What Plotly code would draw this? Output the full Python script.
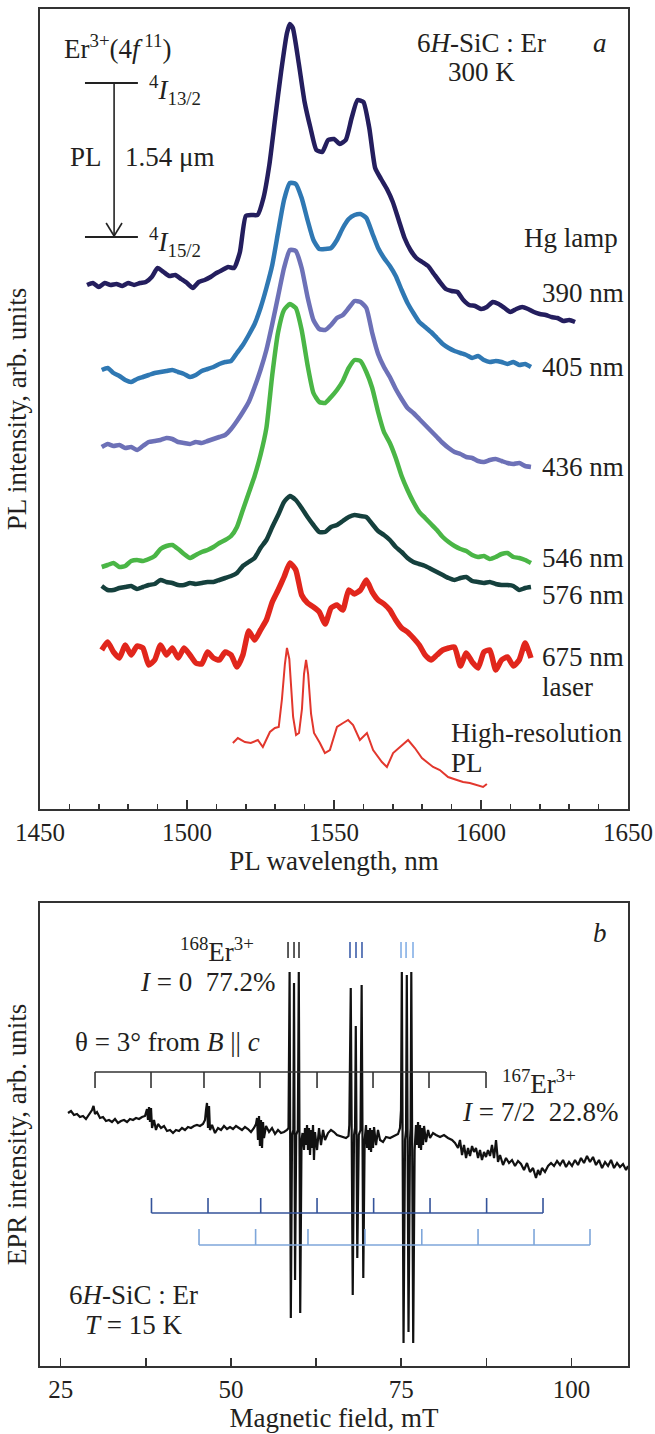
import plotly.graph_objects as go

# ---------------- Panel a: PL spectra (offset, arb. units) ----------------
wl_390 = [1466, 1468, 1470, 1472, 1474, 1476, 1478, 1480, 1482, 1484,
          1486, 1488, 1490, 1492, 1494, 1496, 1498, 1500, 1502, 1504,
          1506, 1508, 1510, 1512, 1514, 1516, 1518, 1520, 1522, 1524,
          1526, 1528, 1530, 1532, 1534, 1535, 1536, 1538, 1540, 1542,
          1544, 1546, 1548, 1550, 1552, 1554, 1556, 1558, 1560, 1562,
          1564, 1566, 1568, 1570, 1572, 1574, 1576, 1578, 1580, 1582,
          1584, 1586, 1588, 1590, 1592, 1594, 1596, 1598, 1600, 1602,
          1604, 1606, 1608, 1610, 1612, 1614, 1616, 1618, 1620, 1622,
          1624, 1626, 1628, 1630, 1632]
pl_390 = [524, 526, 522, 526, 524, 525, 523, 526, 524, 526,
          527, 532, 541, 537, 533, 534, 530, 526, 521, 527,
          529, 532, 536, 539, 542, 541, 557, 593, 594, 594,
          611, 644, 691, 737, 776, 785, 781, 746, 707, 681,
          659, 657, 669, 670, 665, 669, 691, 709, 707, 681,
          641, 630, 620, 607, 589, 571, 559, 551, 547, 543,
          535, 527, 520, 518, 517, 509, 504, 503, 500, 502,
          507, 505, 501, 497, 500, 502, 500, 497, 495, 494,
          492, 491, 488, 489, 487]

wl_hg = [1471, 1473, 1475, 1477, 1479, 1481, 1483, 1485, 1487, 1489,
         1491, 1493, 1495, 1497, 1499, 1501, 1503, 1505, 1507, 1509,
         1511, 1513, 1515, 1517, 1519, 1521, 1523, 1525, 1527, 1529,
         1531, 1533, 1535, 1537, 1539, 1541, 1543, 1545, 1547, 1549,
         1551, 1553, 1555, 1557, 1559, 1561, 1563, 1565, 1567, 1569,
         1571, 1573, 1575, 1577, 1579, 1581, 1583, 1585, 1587, 1589,
         1591, 1593, 1595, 1597, 1599, 1601, 1603, 1605, 1607, 1609,
         1611, 1613, 1615, 1617]
pl_405 = [439, 441, 436, 433, 429, 427, 430, 432, 434, 436,
          437, 438, 439, 437, 435, 432, 434, 438, 440, 442,
          445, 447, 448, 456, 464, 474, 485, 501, 521, 544,
          577, 609, 626, 625, 611, 589, 569, 560, 560, 561,
          569, 581, 590, 594, 595, 591, 576, 561, 551, 543,
          533, 519, 506, 496, 487, 482, 477, 471, 465, 461,
          458, 456, 454, 451, 453, 449, 447, 448, 447, 445,
          447, 444, 445, 442]
pl_436 = [362, 365, 363, 364, 361, 362, 359, 363, 367, 368,
          369, 371, 370, 367, 366, 365, 367, 366, 368, 370,
          372, 374, 380, 388, 397, 407, 422, 439, 459, 485,
          513, 541, 559, 558, 541, 512, 489, 480, 479, 484,
          491, 494, 501, 508, 507, 501, 476, 455, 442, 432,
          420, 410, 401, 396, 390, 384, 378, 372, 366, 361,
          357, 355, 352, 351, 348, 347, 349, 350, 348, 346,
          345, 346, 343, 342]
pl_546 = [242, 244, 246, 242, 243, 248, 249, 248, 250, 253,
          260, 263, 264, 260, 255, 251, 254, 257, 259, 262,
          266, 269, 273, 282, 299, 316, 333, 354, 381, 434,
          477, 499, 505, 501, 479, 444, 416, 407, 406, 412,
          419, 428, 441, 449, 448, 437, 421, 397, 377, 366,
          351, 333, 319, 307, 297, 291, 285, 279, 272, 267,
          263, 260, 258, 254, 252, 253, 250, 252, 255, 256,
          252, 251, 249, 246]
pl_576 = [223, 219, 219, 221, 222, 223, 220, 222, 224, 225,
          229, 227, 226, 224, 224, 226, 225, 226, 227, 227,
          229, 231, 233, 236, 243, 247, 251, 261, 269, 282,
          294, 307, 313, 309, 301, 292, 284, 277, 277, 282,
          284, 288, 292, 294, 293, 292, 285, 278, 274, 269,
          262, 257, 251, 247, 245, 243, 240, 237, 234, 231,
          229, 231, 232, 228, 227, 226, 227, 225, 224, 224,
          223, 219, 221, 222]
pl_675 = [159, 167, 157, 151, 164, 154, 163, 161, 144, 149,
          164, 154, 161, 151, 161, 154, 146, 145, 157, 151,
          149, 157, 154, 142, 154, 178, 169, 179, 189, 207,
          219, 232, 246, 239, 214, 206, 202, 197, 185, 201,
          204, 199, 219, 215, 219, 229, 217, 209, 205, 199,
          189, 181, 177, 171, 164, 154, 149, 154, 159, 161,
          162, 143, 156, 147, 141, 157, 159, 139, 149, 152,
          143, 149, 166, 151]

wl_hr = [1515.6, 1517.3, 1519.7, 1521.7, 1524.1, 1525.8, 1528.2, 1529.9, 1531.2, 1532.3,
         1533.3, 1534.0, 1534.8, 1535.4, 1536.1, 1537.1, 1538.1, 1539.1, 1539.8, 1540.5,
         1541.2, 1542.2, 1543.2, 1545.2, 1546.9, 1548.6, 1551.0, 1553.1, 1554.8, 1556.5,
         1558.8, 1561.2, 1563.3, 1566.3, 1568.0, 1570.1, 1572.4, 1575.2, 1577.5, 1579.9,
         1582.0, 1583.7, 1586.0, 1588.8, 1591.8, 1593.9, 1596.2, 1598.6, 1600.7, 1602.0]
pl_hr = [66, 71, 67, 66, 69, 62, 77, 81, 82, 110,
         145, 161, 150, 120, 92, 74, 76, 100, 135, 149,
         135, 95, 76, 66, 56, 59, 82, 86, 89, 84,
         69, 76, 59, 47, 42, 56, 62, 69, 61, 51,
         46, 42, 39, 32, 29, 27, 26, 24, 22, 25]

pl_labels = ["390 nm", "405 nm", "436 nm", "546 nm", "576 nm", "675 nm"]
pl_label_y = [516, 442, 342, 251, 214, 152]

# ---------------- Panel b: EPR spectrum ----------------
field_mT = [
    26.07, 26.51, 26.95, 27.39, 27.83, 28.27, 28.71, 29.16, 29.60, 29.82,
    30.04, 30.33, 30.77, 31.21, 31.65, 32.09, 32.53, 32.97, 33.41, 33.85,
    34.30, 34.74, 35.18, 35.62, 36.06, 36.50, 36.94, 37.38, 37.67, 37.82,
    37.97, 38.11, 38.26, 38.41, 38.70, 38.99, 39.29, 39.73, 40.17, 40.61,
    41.05, 41.49, 41.93, 42.37, 42.81, 43.25, 43.69, 44.13, 44.57, 45.01,
    45.45, 45.89, 46.19, 46.34, 46.48, 46.63, 46.78, 46.92, 47.22, 47.66,
    48.10, 48.54, 48.98, 49.42, 49.86, 50.30, 50.74, 51.18, 51.62, 52.06,
    52.50, 52.94, 53.38, 53.68, 53.83, 53.97, 54.12, 54.26, 54.41, 54.56,
    54.71, 54.85, 55.15, 55.59, 56.03, 56.47, 56.91, 57.35, 57.79, 58.23,
    58.45,
    58.61, 58.79, 58.97, 59.16, 59.26, 59.41, 59.58, 59.82, 59.96, 60.17, 60.36, 60.51,
    60.73, 60.87, 61.02, 61.17, 61.31, 61.46, 61.61, 61.75, 61.90, 62.05,
    62.19, 62.34, 62.64, 62.93, 63.22, 63.52, 63.81, 64.25, 64.69, 65.13,
    65.57, 66.01, 66.45, 66.89, 67.26,
    67.38, 67.59, 67.88, 68.07, 68.22, 68.33, 68.55, 68.77, 69.02, 69.19, 69.43, 69.63,
    69.83, 69.98, 70.12, 70.27, 70.42, 70.57, 70.71, 70.86, 71.01, 71.30,
    71.59, 71.89, 72.33, 72.77, 73.36, 73.94, 74.53, 74.82,
    74.97, 75.09, 75.34, 75.56, 75.71, 75.82, 76.07, 76.29, 76.38, 76.48, 76.76, 76.97,
    77.17, 77.32, 77.47, 77.61, 77.76, 77.91, 78.05, 78.20, 78.35, 78.64,
    78.94, 79.23, 79.67, 80.11, 80.70, 81.28, 81.87, 82.46, 82.90, 83.34,
    83.63, 83.93, 84.22, 84.52, 84.81, 85.10, 85.40, 85.69, 85.98, 86.28,
    86.57, 86.86, 87.16, 87.45, 87.74, 88.04, 88.33, 88.63, 88.92, 89.21,
    89.51, 89.95, 90.39, 90.83, 91.27, 91.71, 92.15, 92.59, 93.03, 93.47,
    93.91, 94.35, 94.79, 95.09, 95.38, 95.67, 96.11, 96.56, 97.00, 97.44,
    97.88, 98.32, 98.76, 99.20, 99.64, 100.08, 100.52, 100.96, 101.40, 101.84,
    102.28, 102.72, 103.16, 103.60, 104.04, 104.49, 104.93, 105.37, 105.81, 106.25,
    106.69, 107.13, 107.57, 108.01, 108.30]
epr_signal = [
    253, 255, 251, 252, 249, 250, 247, 251, 256, 260,
    252, 254, 248, 249, 245, 246, 244, 247, 243, 245,
    246, 244, 247, 246, 248, 247, 249, 250, 257, 246,
    259, 244, 258, 238, 246, 236, 242, 238, 240, 235,
    236, 233, 236, 235, 238, 236, 239, 238, 240, 241,
    240, 242, 246, 256, 263, 238, 260, 236, 241, 233,
    238, 236, 240, 237, 239, 237, 240, 238, 236, 239,
    237, 234, 238, 242, 248, 226, 250, 220, 246, 218,
    244, 228, 240, 234, 238, 232, 236, 233, 234, 236,
    238,
    394, 48, 231, 236, 383, 86, 231, 236, 394, 53, 226, 233,
    216, 238, 221, 241, 216, 238, 211, 236, 218, 241,
    206, 234, 216, 238, 221, 236, 226, 233, 236, 234,
    231, 230, 229, 228, 230,
    241, 378, 71, 231, 238, 340, 108, 231, 236, 381, 88, 226,
    241, 218, 236, 216, 238, 214, 236, 218, 239, 221,
    236, 226, 224, 229, 228, 230, 232, 238,
    256, 394, 23, 226, 236, 391, 34, 226, 238, 394, 23, 216,
    241, 221, 244, 218, 241, 216, 238, 221, 240, 224,
    236, 228, 233, 231, 229, 231, 228, 226, 223, 218,
    226, 211, 221, 208, 218, 210, 220, 214, 218, 208,
    216, 206, 214, 209, 216, 210, 221, 208, 226, 204,
    211, 201, 208, 203, 206, 200, 205, 202, 196, 203,
    194, 198, 188, 196, 191, 198, 194, 200, 203, 200,
    205, 201, 206, 199, 204, 200, 206, 201, 208, 203,
    210, 204, 209, 201, 206, 198, 204, 200, 206, 198,
    203, 199, 202, 196, 200]

# hyperfine stick diagrams (mT)
hf_167_black = [30.04, 38.26, 46.04, 54.26, 62.64, 70.86, 79.08, 87.45]
hf_167_dark = [38.33, 46.63, 54.37, 62.64, 70.95, 79.23, 87.54, 95.82]
hf_167_light = [45.31, 53.62, 61.31, 69.68, 78.02, 86.28, 94.50, 102.72]
lines_168_black = [58.38, 59.26, 59.99]
lines_168_dark = [67.48, 68.36, 69.24]
lines_168_light = [74.97, 75.71, 76.73]

FONT = "Liberation Serif"
TXT = "#231f20"
AX = "#333333"
FS = 27

fig = go.Figure()

curves = [
    (wl_390, pl_390, "#241e5e", 4.5, "spline"),
    (wl_hg, pl_405, "#2f78b3", 4.5, "spline"),
    (wl_hg, pl_436, "#6d71b7", 4.5, "spline"),
    (wl_hg, pl_546, "#4ab646", 4.5, "spline"),
    (wl_hg, pl_576, "#15403d", 4.5, "spline"),
    (wl_hg, pl_675, "#e1261c", 5.5, "spline"),
    (wl_hr, pl_hr, "#e2372d", 2.0, "linear"),
]
for wl, val, col, w, shp in curves:
    line = dict(color=col, width=w, shape=shp)
    if shp == "spline":
        line["smoothing"] = 0.5
    fig.add_trace(go.Scatter(x=wl, y=val, mode="lines", line=line,
                             xaxis="x", yaxis="y", hoverinfo="skip", showlegend=False))

fig.add_trace(go.Scatter(x=field_mT, y=epr_signal, mode="lines",
                         line=dict(color="#111111", width=2.2),
                         xaxis="x2", yaxis="y2", hoverinfo="skip", showlegend=False))


def comb(pos, base, tip):
    xs = [pos[0], pos[-1], None]
    ys = [base, base, None]
    for p in pos:
        xs += [p, p, None]
        ys += [base, tip, None]
    return xs, ys


def sticks(pos, lo, hi):
    xs, ys = [], []
    for p in pos:
        xs += [p, p, None]
        ys += [lo, hi, None]
    return xs, ys


for pos, base, tip, col in [(hf_167_black, 294, 278, "#333333"),
                            (hf_167_dark, 153, 168, "#34539a"),
                            (hf_167_light, 121, 137, "#7ea6da")]:
    xs, ys = comb(pos, base, tip)
    fig.add_trace(go.Scatter(x=xs, y=ys, mode="lines", line=dict(color=col, width=1.6),
                             xaxis="x2", yaxis="y2", hoverinfo="skip", showlegend=False))

for pos, col in [(lines_168_black, "#333333"), (lines_168_dark, "#3d5eaa"),
                 (lines_168_light, "#84afe6")]:
    xs, ys = sticks(pos, 408, 424)
    fig.add_trace(go.Scatter(x=xs, y=ys, mode="lines", line=dict(color=col, width=1.6),
                             xaxis="x2", yaxis="y2", hoverinfo="skip", showlegend=False))

axis_common = dict(showline=True, mirror=True, linecolor=AX, linewidth=2,
                   showgrid=False, zeroline=False)
tickfont = dict(family=FONT, size=25, color=TXT)
titlefont = dict(family=FONT, size=FS, color=TXT)

fig.update_layout(
    width=655, height=1434,
    margin=dict(l=40, r=27, t=9, b=68, autoexpand=False),
    paper_bgcolor="white", plot_bgcolor="white",
    showlegend=False, hovermode=False,
    font=dict(family=FONT, size=FS, color=TXT),
    xaxis=dict(domain=[0, 1], anchor="y", range=[1450, 1650], tickmode="linear",
               tick0=1450, dtick=50, ticks="inside", ticklen=9, tickwidth=1.5,
               tickcolor=AX, tickfont=tickfont,
               minor=dict(tickmode="linear", tick0=1450, dtick=10, ticks="inside",
                          ticklen=5, tickwidth=1.5, tickcolor=AX),
               title=dict(text="PL wavelength, nm", font=titlefont, standoff=3),
               automargin=False, **axis_common),
    yaxis=dict(domain=[0.41046, 1], anchor="x", range=[0, 800], showticklabels=False,
               ticks="", title=dict(text="PL intensity, arb. units", font=titlefont,
                                    standoff=4),
               automargin=False, **axis_common),
    xaxis2=dict(domain=[0, 1], anchor="y2", range=[21.96, 108.3], tickmode="linear",
                tick0=25, dtick=25, ticks="inside", ticklen=8, tickwidth=1.5,
                tickcolor=AX, tickfont=tickfont,
                minor=dict(tickmode="linear", tick0=25, dtick=12.5, ticks="inside",
                           ticklen=8, tickwidth=1.5, tickcolor=AX),
                title=dict(text="Magnetic field, mT", font=titlefont, standoff=3),
                automargin=False, **axis_common),
    yaxis2=dict(domain=[0, 0.34119], anchor="x2", range=[0, 463], showticklabels=False,
                ticks="", title=dict(text="EPR intensity, arb. units", font=titlefont,
                                     standoff=4),
                automargin=False, **axis_common),
)

# energy-level diagram (panel a)
shapes = [
    dict(type="line", xref="x", yref="y", x0=1465.3, x1=1483.3, y0=726, y1=726,
         line=dict(color="#222222", width=2)),
    dict(type="line", xref="x", yref="y", x0=1465.3, x1=1483.3, y0=572, y1=572,
         line=dict(color="#222222", width=2)),
    dict(type="line", xref="x", yref="y", x0=1475.2, x1=1475.2, y0=726, y1=573,
         line=dict(color="#222222", width=1.6)),
    dict(type="line", xref="x", yref="y", x0=1472.5, x1=1475.2, y0=586, y1=573,
         line=dict(color="#222222", width=1.6)),
    dict(type="line", xref="x", yref="y", x0=1477.9, x1=1475.2, y0=586, y1=573,
         line=dict(color="#222222", width=1.6)),
]
fig.update_layout(shapes=shapes)


def ann(text, x, y, ref="", xanchor="left", size=FS):
    return dict(text=text, x=x, y=y, xref="x" + ref, yref="y" + ref,
                xanchor=xanchor, yanchor="middle", showarrow=False,
                font=dict(family=FONT, size=size, color=TXT))


annotations = [
    ann("Er<sup>3+</sup>(4<i>f</i><sup> 11</sup>)", 1457.5, 762),
    ann("<sup>4</sup><i>I</i><sub>13/2</sub>", 1486.4, 719),
    ann("<sup>4</sup><i>I</i><sub>15/2</sub>", 1486.4, 567),
    ann("PL", 1459.5, 652),
    ann("1.54 μm", 1478.2, 652),
    ann("6<i>H</i>-SiC : Er", 1600.0, 766, xanchor="center"),
    ann("300 K", 1600.0, 737, xanchor="center"),
    ann("<i>a</i>", 1640.5, 766, xanchor="center"),
    ann("Hg lamp", 1613.9, 571),
    ann("laser", 1620.1, 122),
    ann("High-resolution", 1589.1, 76),
    ann("PL", 1589.1, 46),
    # panel b
    ann("<i>b</i>", 104.19, 433, ref="2", xanchor="center"),
    ann("<sup>168</sup>Er<sup>3+</sup>", 42.2, 416, ref="2"),
    ann("<i>I</i> = 0  77.2%", 36.35, 384, ref="2"),
    ann("θ = 3° from <i>B</i> || <i>c</i>", 26.81, 324, ref="2"),
    ann("<sup>167</sup>Er<sup>3+</sup>", 89.51, 284, ref="2"),
    ann("<i>I</i> = 7/2  22.8%", 83.63, 254, ref="2"),
    ann("6<i>H</i>-SiC : Er", 35.76, 71, ref="2", xanchor="center"),
    ann("<i>T</i> = 15 K", 35.76, 41, ref="2", xanchor="center"),
]
for lab, yv in zip(pl_labels, pl_label_y):
    annotations.append(ann(lab, 1620.1, yv))
fig.update_layout(annotations=annotations)

fig.write_html("out.html",
               config={"displayModeBar": False, "staticPlot": True},
               post_script="document.body.style.margin='0px';"
                           "document.body.style.overflow='hidden';")
